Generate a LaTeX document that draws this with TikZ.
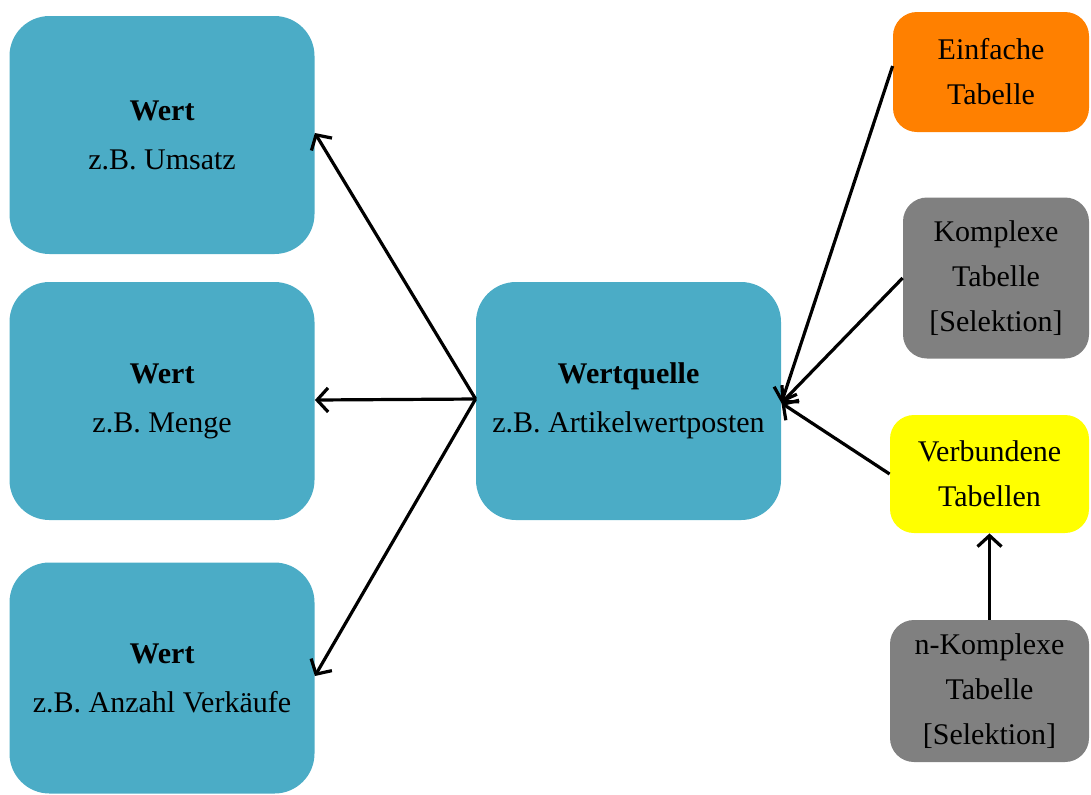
\documentclass[tikz,border=0pt]{standalone}
\usepackage{fontspec}
\setmainfont{Liberation Serif}
\usepackage{tikz}
\usetikzlibrary{arrows}
\usetikzlibrary{arrows.meta}
\usetikzlibrary{positioning}

\definecolor{wertblau}{RGB}{75,172,198}
\definecolor{taborange}{RGB}{255,128,0}
\definecolor{tabgrau}{RGB}{128,128,128}
\definecolor{tabgelb}{RGB}{255,255,0}

\begin{document}
\begin{tikzpicture}[x=0.5pt,y=0.5pt,yscale=-1,xscale=1,
  wertbox/.style={fill=wertblau, rounded corners=20pt, minimum width=152.5pt, minimum height=119pt, inner sep=0pt, align=center, font=\fontsize{15}{24.5}\selectfont},
  tabbox/.style={rounded corners=12pt, inner sep=0pt, align=center, font=\fontsize{15}{22.5}\selectfont},
  pfeil/.style={-{Straight Barb[length=5.5pt,width=12pt]}, line width=1.6pt}]
\useasboundingbox (0,0) rectangle (1091,794);

% Wert boxes
\node [wertbox] (wert1) at (162,135) {\textbf{Wert}\\z.B. Umsatz};
\node [wertbox] (wert2) at (162,401) {\textbf{Wert}\\z.B. Menge};
\node [wertbox, minimum height=115.5pt] (wert3) at (162,678) {\textbf{Wert}\\z.B. Anzahl Verkäufe};
% Wertquelle
\node [wertbox] (quelle) at (628.5,401) {\textbf{Wertquelle}\\z.B. Artikelwertposten};

% Tabellen
\node [tabbox, fill=taborange, minimum width=98pt, minimum height=60pt] (einfach) at (991,72) {Einfache\\Tabelle};
\node [tabbox, fill=tabgrau, minimum width=93pt, minimum height=80.5pt] (komplex) at (996,278) {Komplexe\\Tabelle\\{[Selektion]}};
\node [tabbox, fill=tabgelb, minimum width=99.5pt, minimum height=59pt] (verbund) at (989.5,474) {Verbundene\\Tabellen};
\node [tabbox, fill=tabgrau, minimum width=99.5pt, minimum height=71pt] (nkomplex) at (989.5,691) {n-Komplexe\\Tabelle\\{[Selektion]}};

% Pfeile
\draw [pfeil] ([yshift=-1pt]quelle.west) -- ([yshift=-1pt]wert1.east);
\draw [pfeil] ([yshift=-1pt]quelle.west) -- ([yshift=-0.5pt]wert2.east);
\draw [pfeil] ([yshift=-1pt]quelle.west) -- ([yshift=-1pt]wert3.east);
\draw [pfeil] ([yshift=-3pt]einfach.west) -- ([yshift=1pt]quelle.east);
\draw [pfeil] (komplex.west) -- ([yshift=1pt]quelle.east);
\draw [pfeil] (verbund.west) -- ([yshift=1pt]quelle.east);
\draw [pfeil] (nkomplex.north) -- (verbund.south);

\end{tikzpicture}
\end{document}
